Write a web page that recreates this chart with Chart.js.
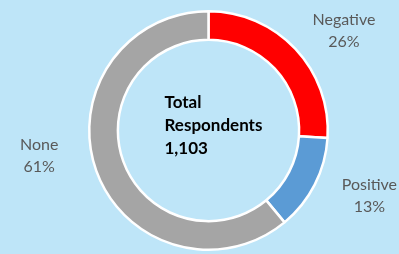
<!DOCTYPE html>
<html>
<head>
<meta charset="utf-8">
<script src="https://cdn.jsdelivr.net/npm/chart.js"></script>
<style>
  html, body { margin: 0; padding: 0; background: #BEE5F8; }
  #wrap { width: 399px; height: 254px; position: relative; }
</style>
</head>
<body>
<div id="wrap"><canvas id="sentiment_chart"></canvas></div>
<script>
var labels = ["Negative", "Positive", "None"];
var shares = [26, 13, 61];
var colors = ["#FF0000", "#5B9BD5", "#A5A5A5"];
var centerLines = ["Total", "Respondents", "1,103"];

// nudges from the default label spot (px), Excel puts them a bit off-radial
var labelNudge = [[12, 16], [10, -12], [-10, -32]];

var labelPlugin = {
  id: 'donutLabels',
  afterDraw: function(chart) {
    var ctx = chart.ctx;
    var meta = chart.getDatasetMeta(0);
    ctx.save();
    ctx.textAlign = 'center';
    ctx.textBaseline = 'middle';
    ctx.fillStyle = '#595959';
    ctx.font = '16px Lato';
    meta.data.forEach(function(arc, i) {
      var p = arc.getProps(['x', 'y', 'startAngle', 'endAngle', 'outerRadius'], true);
      var mid = (p.startAngle + p.endAngle) / 2;
      var r = p.outerRadius * 1.42;
      var x = p.x + Math.cos(mid) * r + labelNudge[i][0];
      var y = p.y + Math.sin(mid) * r + labelNudge[i][1];
      ctx.fillText(labels[i], x, y - 11);
      ctx.fillText(shares[i] + '%', x, y + 11);
    });

    // center text
    var c = meta.data[0].getProps(['x', 'y'], true);
    ctx.textAlign = 'left';
    ctx.fillStyle = '#000000';
    ctx.font = 'bold 17px Lato';
    ctx.fillText(centerLines[0], c.x - 44, c.y - 28);
    ctx.fillText(centerLines[1], c.x - 44, c.y - 5);
    ctx.fillText(centerLines[2], c.x - 44, c.y + 18);
    ctx.restore();
  }
};

var context = document.getElementById("sentiment_chart").getContext('2d');
var myChart = new Chart(context, {
  type: 'doughnut',
  data: {
    labels: labels,
    datasets: [{
      backgroundColor: colors,
      borderColor: '#FFFFFF',
      borderWidth: 2.5,
      data: shares
    }]
  },
  options: {
    responsive: true,
    maintainAspectRatio: false,
    animation: false,
    cutout: '76%',
    layout: {
      padding: { top: 10, bottom: 3, left: 88, right: 70 }
    },
    plugins: {
      legend: { display: false },
      tooltip: { enabled: false }
    }
  },
  plugins: [labelPlugin]
});
</script>
</body>
</html>
